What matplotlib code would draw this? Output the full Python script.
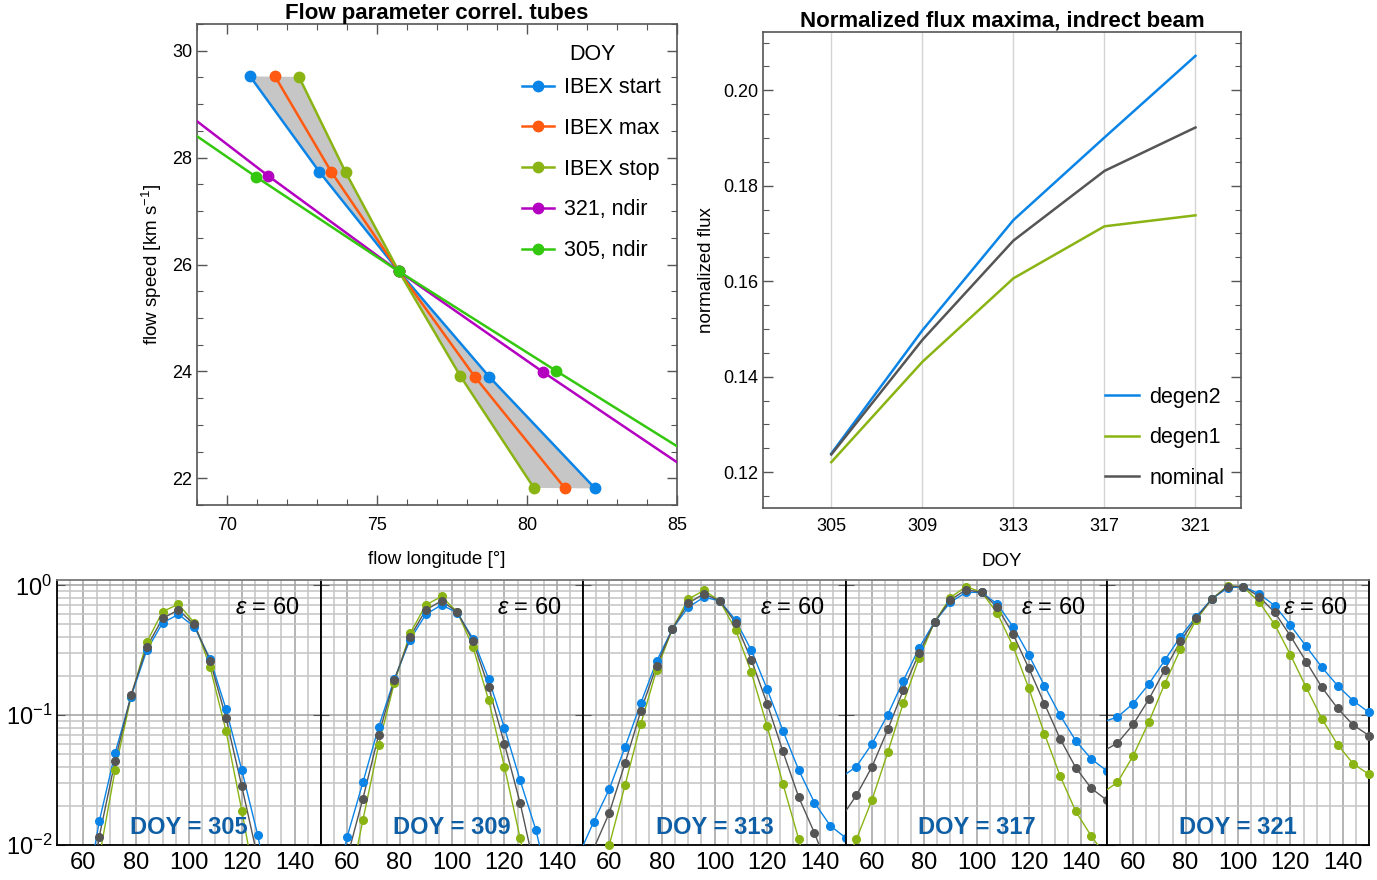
import numpy as np
import matplotlib
matplotlib.use("Agg")
import matplotlib.pyplot as plt
from matplotlib.ticker import MultipleLocator, LogLocator, NullFormatter

plt.rcParams['font.family'] = ['Liberation Sans', 'DejaVu Sans']
plt.rcParams['mathtext.fontset'] = 'custom'
plt.rcParams['mathtext.rm'] = 'Liberation Sans'
plt.rcParams['mathtext.it'] = 'Liberation Sans:italic'

# colours
c_start = '#0a84e6'
c_max = '#ff5a10'
c_stop = '#8ab414'
c_321 = '#b400c0'
c_305 = '#33c80f'
c_nom = '#555555'
c_doy = '#0f5fa6'

# ---- top left: flow parameter correlation tubes
start_lon = [70.77, 73.07, 75.73, 78.74, 82.27]
start_v = [29.52, 27.74, 25.87, 23.90, 21.81]
max_lon = [71.60, 73.48, 75.73, 78.26, 81.27]
max_v = [29.52, 27.73, 25.87, 23.90, 21.81]
stop_lon = [72.40, 73.95, 75.73, 77.77, 80.23]
stop_v = [29.51, 27.73, 25.87, 23.92, 21.82]
n321_lon = [69.0, 71.37, 75.73, 80.53, 85.0]
n321_v = [28.68, 27.66, 25.87, 23.99, 22.30]
n305_lon = [69.0, 70.97, 75.73, 80.97, 85.0]
n305_v = [28.40, 27.64, 25.87, 24.01, 22.60]

# ---- top right: normalized flux maxima
doy = [305, 309, 313, 317, 321]
degen2 = [0.1239, 0.1497, 0.1728, 0.1901, 0.2072]
degen1 = [0.1221, 0.1431, 0.1606, 0.1715, 0.1738]
nominal = [0.1237, 0.1477, 0.1685, 0.1831, 0.1922]

# ---- bottom: spin angle profiles, eps = 60
spin = [48, 54, 60, 66, 72, 78, 84, 90, 96, 102, 108, 114, 120, 126, 132, 138, 144, 150]
nan = np.nan
prof_doy = [305, 309, 313, 317, 321]
prof_degen2 = [
    [nan, nan, 0.003, 0.0152, 0.051, 0.138, 0.316, 0.515, 0.598, 0.48, 0.272, 0.112, 0.0377, 0.012, 0.003, nan, nan, nan],
    [nan, 0.003, 0.0116, 0.0304, 0.081, 0.19, 0.382, 0.598, 0.707, 0.616, 0.389, 0.19, 0.08, 0.0315, 0.0131, 0.004, nan, nan],
    [0.008, 0.015, 0.027, 0.0569, 0.124, 0.261, 0.463, 0.678, 0.811, 0.76, 0.541, 0.316, 0.159, 0.0762, 0.0379, 0.0212, 0.0141, 0.0113],
    [0.033, 0.0402, 0.0604, 0.101, 0.185, 0.33, 0.525, 0.742, 0.883, 0.883, 0.716, 0.48, 0.292, 0.169, 0.10, 0.0637, 0.0459, 0.0372],
    [0.088, 0.0968, 0.123, 0.174, 0.264, 0.401, 0.574, 0.787, 0.953, 0.98, 0.861, 0.699, 0.494, 0.339, 0.234, 0.169, 0.129, 0.105],
]
prof_nominal = [
    [nan, nan, 0.002, 0.0116, 0.0445, 0.142, 0.335, 0.557, 0.647, 0.50, 0.261, 0.0957, 0.0283, 0.008, 0.002, nan, nan, nan],
    [nan, 0.002, 0.008, 0.0228, 0.0705, 0.187, 0.401, 0.647, 0.76, 0.624, 0.373, 0.164, 0.0604, 0.0211, 0.006, nan, nan, nan],
    [nan, 0.0093, 0.0177, 0.0427, 0.108, 0.241, 0.463, 0.729, 0.861, 0.76, 0.515, 0.267, 0.123, 0.0526, 0.0234, 0.0124, 0.006, nan],
    [0.016, 0.0242, 0.0402, 0.0776, 0.157, 0.301, 0.525, 0.773, 0.925, 0.883, 0.678, 0.421, 0.231, 0.123, 0.066, 0.0395, 0.0273, 0.0221],
    [0.052, 0.061, 0.0849, 0.133, 0.223, 0.371, 0.557, 0.783, 0.98, 0.98, 0.82, 0.62, 0.408, 0.259, 0.164, 0.113, 0.0838, 0.0697],
]
prof_degen1 = [
    [nan, nan, 0.001, 0.008, 0.0377, 0.137, 0.365, 0.628, 0.716, 0.515, 0.234, 0.076, 0.0184, 0.004, nan, nan, nan, nan],
    [nan, nan, 0.004, 0.0156, 0.059, 0.178, 0.426, 0.707, 0.821, 0.624, 0.335, 0.130, 0.0402, 0.0113, 0.003, nan, nan, nan],
    [nan, 0.004, 0.0100, 0.029, 0.0859, 0.223, 0.463, 0.783, 0.914, 0.76, 0.457, 0.214, 0.0824, 0.0297, 0.0111, 0.004, nan, nan],
    [0.006, 0.0111, 0.0224, 0.0517, 0.125, 0.275, 0.525, 0.806, 0.98, 0.883, 0.609, 0.339, 0.162, 0.0722, 0.0342, 0.0182, 0.0117, 0.008],
    [0.025, 0.0304, 0.0487, 0.089, 0.174, 0.321, 0.541, 0.783, 0.994, 0.97, 0.75, 0.5, 0.292, 0.164, 0.094, 0.0593, 0.0422, 0.035],
]

W, H = 1377, 880
fig = plt.figure(figsize=(W / 100, H / 100), dpi=100)


def px_axes(l, t, r, b):
    return fig.add_axes([l / W, 1 - b / H, (r - l) / W, (b - t) / H])


def frame(ax):
    for s in ax.spines.values():
        s.set_color('#555555')
        s.set_linewidth(1.2)
    ax.tick_params(which='both', direction='in', top=True, right=True,
                   color='#555555', labelsize=13)
    ax.tick_params(which='major', length=7, width=1)
    ax.tick_params(which='minor', length=4, width=0.8)


# ================= top left
ax1 = px_axes(197, 24, 677, 505)
frame(ax1)
ax1.fill(np.concatenate([start_lon, stop_lon[::-1]]),
         np.concatenate([start_v, stop_v[::-1]]), color='#c6c6c6', lw=0, zorder=1)
kw = dict(lw=1.8, marker='o', ms=7.5, zorder=3)
ax1.plot(start_lon, start_v, color=c_start, label='IBEX start', **kw)
ax1.plot(max_lon, max_v, color=c_max, label='IBEX max', **kw)
ax1.plot(stop_lon, stop_v, color=c_stop, label='IBEX stop', **kw)
ax1.plot(n321_lon, n321_v, color=c_321, label='321, ndir', markevery=[1, 2, 3], **kw)
ax1.plot(n305_lon, n305_v, color=c_305, label='305, ndir', markevery=[1, 2, 3], **kw)
ax1.set_xlim(69, 85)
ax1.set_ylim(21.5, 30.5)
ax1.xaxis.set_major_locator(MultipleLocator(5))
ax1.xaxis.set_minor_locator(MultipleLocator(1))
ax1.yaxis.set_major_locator(MultipleLocator(2))
ax1.yaxis.set_minor_locator(MultipleLocator(0.5))
ax1.tick_params(axis='x', pad=9)
ax1.set_title('Flow parameter correl. tubes', fontsize=16, fontweight='bold', pad=0)
ax1.set_xlabel('flow longitude [°]', fontsize=13.5, labelpad=12)
ax1.set_ylabel('flow speed [km s$^{-1}$]', fontsize=13.5, labelpad=6)
ax1.text(0.823, 0.936, 'DOY', transform=ax1.transAxes, ha='center', va='center',
         fontsize=15.5)
ax1.legend(loc='upper left', bbox_to_anchor=(0.636, 0.930),
           frameon=False, fontsize=15.5,
           handlelength=1.5, handletextpad=0.45, labelspacing=0.92)

# ================= top right
ax2 = px_axes(763, 32, 1241, 508)
frame(ax2)
ax2.plot(doy, degen2, color=c_start, lw=1.8, label='degen2')
ax2.plot(doy, degen1, color=c_stop, lw=1.8, label='degen1')
ax2.plot(doy, nominal, color=c_nom, lw=1.8, label='nominal')
ax2.set_xlim(302, 323)
ax2.set_ylim(0.1125, 0.2122)
ax2.set_xticks(doy)
ax2.xaxis.grid(True, color='#d4d4d4', lw=1)
ax2.yaxis.set_major_locator(MultipleLocator(0.02))
ax2.yaxis.set_minor_locator(MultipleLocator(0.005))
ax2.yaxis.set_major_formatter(matplotlib.ticker.FormatStrFormatter('%.2f'))
ax2.tick_params(axis='x', which='major', length=0, pad=7)
ax2.set_title('Normalized flux maxima, indrect beam', fontsize=16, fontweight='bold', pad=4)
ax2.set_xlabel('DOY', fontsize=13.5, labelpad=13)
ax2.set_ylabel('normalized flux', fontsize=13.5, labelpad=6)
ax2.legend(loc='lower left', bbox_to_anchor=(0.675, 0.0), frameon=False, fontsize=15.5,
           handlelength=1.6, handletextpad=0.45, labelspacing=0.9)

# ================= bottom
lefts = [57, 321, 583, 846, 1107, 1369]
spin_a = np.array(spin, dtype=float)
for i in range(5):
    ax = px_axes(lefts[i], 580, lefts[i + 1], 845)
    ax.set_yscale('log')
    ax.set_xlim(50, 150)
    ax.set_ylim(0.01, 1.1)
    ax.xaxis.set_major_locator(MultipleLocator(20))
    ax.xaxis.set_minor_locator(MultipleLocator(5))
    ax.yaxis.set_major_locator(LogLocator(base=10))
    ax.yaxis.set_minor_locator(LogLocator(base=10, subs=np.arange(2, 10)))
    ax.yaxis.set_minor_formatter(NullFormatter())
    ax.grid(True, which='major', color='#a0a0a0', lw=1.1)
    ax.grid(True, which='minor', color='#c4c4c4', lw=1.1)
    ax.set_axisbelow(True)
    for s in ax.spines.values():
        s.set_color('black')
        s.set_linewidth(1.3)
    ax.spines['top'].set_color('#777777')
    ax.tick_params(axis='x', which='both', length=0, labelsize=17, pad=5)
    ax.tick_params(axis='y', which='both', direction='in', left=True, right=True,
                   labelsize=17, color='#555555')
    ax.tick_params(axis='y', which='major', length=6)
    ax.tick_params(axis='y', which='minor', length=0)
    if i > 0:
        ax.tick_params(axis='y', labelleft=False)
    for vals, col in [(prof_degen1[i], c_stop), (prof_degen2[i], c_start), (prof_nominal[i], c_nom)]:
        v = np.array(vals, dtype=float)
        ax.plot(spin_a, v, color=col, lw=1.0, zorder=3)
        m = (spin_a >= 50) & (spin_a <= 150) & (v >= 0.01)
        ax.plot(spin_a[m], v[m], 'o', color=col, ms=5.5, zorder=4, clip_on=False)
    ax.text(0.92, 0.895, r'$\varepsilon$ = 60', transform=ax.transAxes,
            ha='right', va='center', fontsize=17)
    ax.text(0.5, 0.065, 'DOY = %d' % prof_doy[i], transform=ax.transAxes,
            ha='center', va='center', fontsize=17, fontweight='bold', color=c_doy)

fig.savefig('out.png', dpi=100)
